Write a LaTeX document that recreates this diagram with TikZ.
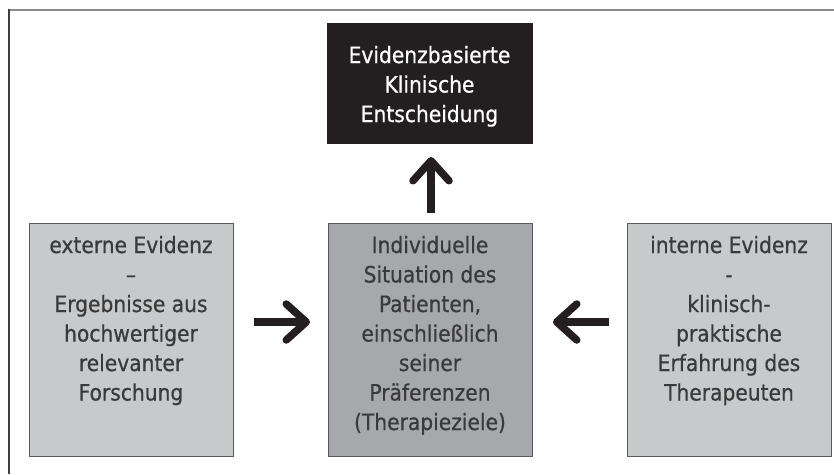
\documentclass[tikz,border=0pt]{standalone}
\usepackage{fontspec}
\setmainfont{DejaVu Sans Condensed}
\newfontfamily\boxfont{DejaVu Sans Condensed}[FakeBold=0.6]
\usetikzlibrary{arrows.meta}
\definecolor{boxlight}{HTML}{C8C9CB}
\definecolor{boxmid}{HTML}{A7A8AB}
\definecolor{boxdark}{HTML}{231F20}
\definecolor{txtgray}{HTML}{3A3A3A}
\definecolor{edgegray}{HTML}{5A5A5A}
\tikzset{
  box/.style={draw=edgegray, line width=1pt, inner sep=0pt, outer sep=0pt, text=txtgray},
  lightbox/.style={box, fill=boxlight},
  midbox/.style={box, fill=boxmid},
  darkbox/.style={box, fill=boxdark, draw=boxdark, text=white},
  fatarrow/.style={draw=boxdark, line width=7.5pt,
    -{Straight Barb[length=20pt, width=36pt, round]}},
}
\newcommand{\boxtext}[4]{\parbox[c][#1][t]{#2}{\boxfont\fontsize{22.5}{29.5}\selectfont\centering\rule{0pt}{#3}#4}}
\begin{document}
\begin{tikzpicture}[x=1pt, y=-1pt]
\useasboundingbox (0,0) rectangle (834,474);
\fill[white] (0,0) rectangle (834,474);
% frame
\draw[line width=2pt, draw=gray!90] (9,10) -- (834,10);
\draw[line width=1.5pt, draw=black!75] (9,9) -- (9,474);
% boxes
\node[darkbox] (ebd) at (429.5,83) {\boxtext{120pt}{205pt}{40pt}{Evidenzbasierte\\Klinische\\Entscheidung}};
\node[lightbox] (ext) at (131,339.5) {\boxtext{233pt}{204pt}{30pt}{externe Evidenz\\–\\Ergebnisse aus\\hochwertiger\\relevanter\\Forschung}};
\node[midbox] (ind) at (430,339.5) {\boxtext{233pt}{204pt}{30pt}{Individuelle\\Situation des\\Patienten,\\einschließlich\\seiner\\Präferenzen\\(Therapieziele)}};
\node[lightbox] (int) at (729,339.5) {\boxtext{233pt}{204pt}{30pt}{interne Evidenz\\-\\klinisch-\\praktische\\Erfahrung des\\Therapeuten}};
% arrows
\draw[fatarrow, shorten <=21pt, shorten >=18pt] (ext.east |- 0,322) -- (ind.west |- 0,322);
\draw[fatarrow, shorten <=18pt, shorten >=21pt] (int.west |- 0,322) -- (ind.east |- 0,322);
\draw[fatarrow, shorten <=10pt, shorten >=14pt] (ind.north -| 431,0) -- (ebd.south -| 431,0);
\end{tikzpicture}
\end{document}
